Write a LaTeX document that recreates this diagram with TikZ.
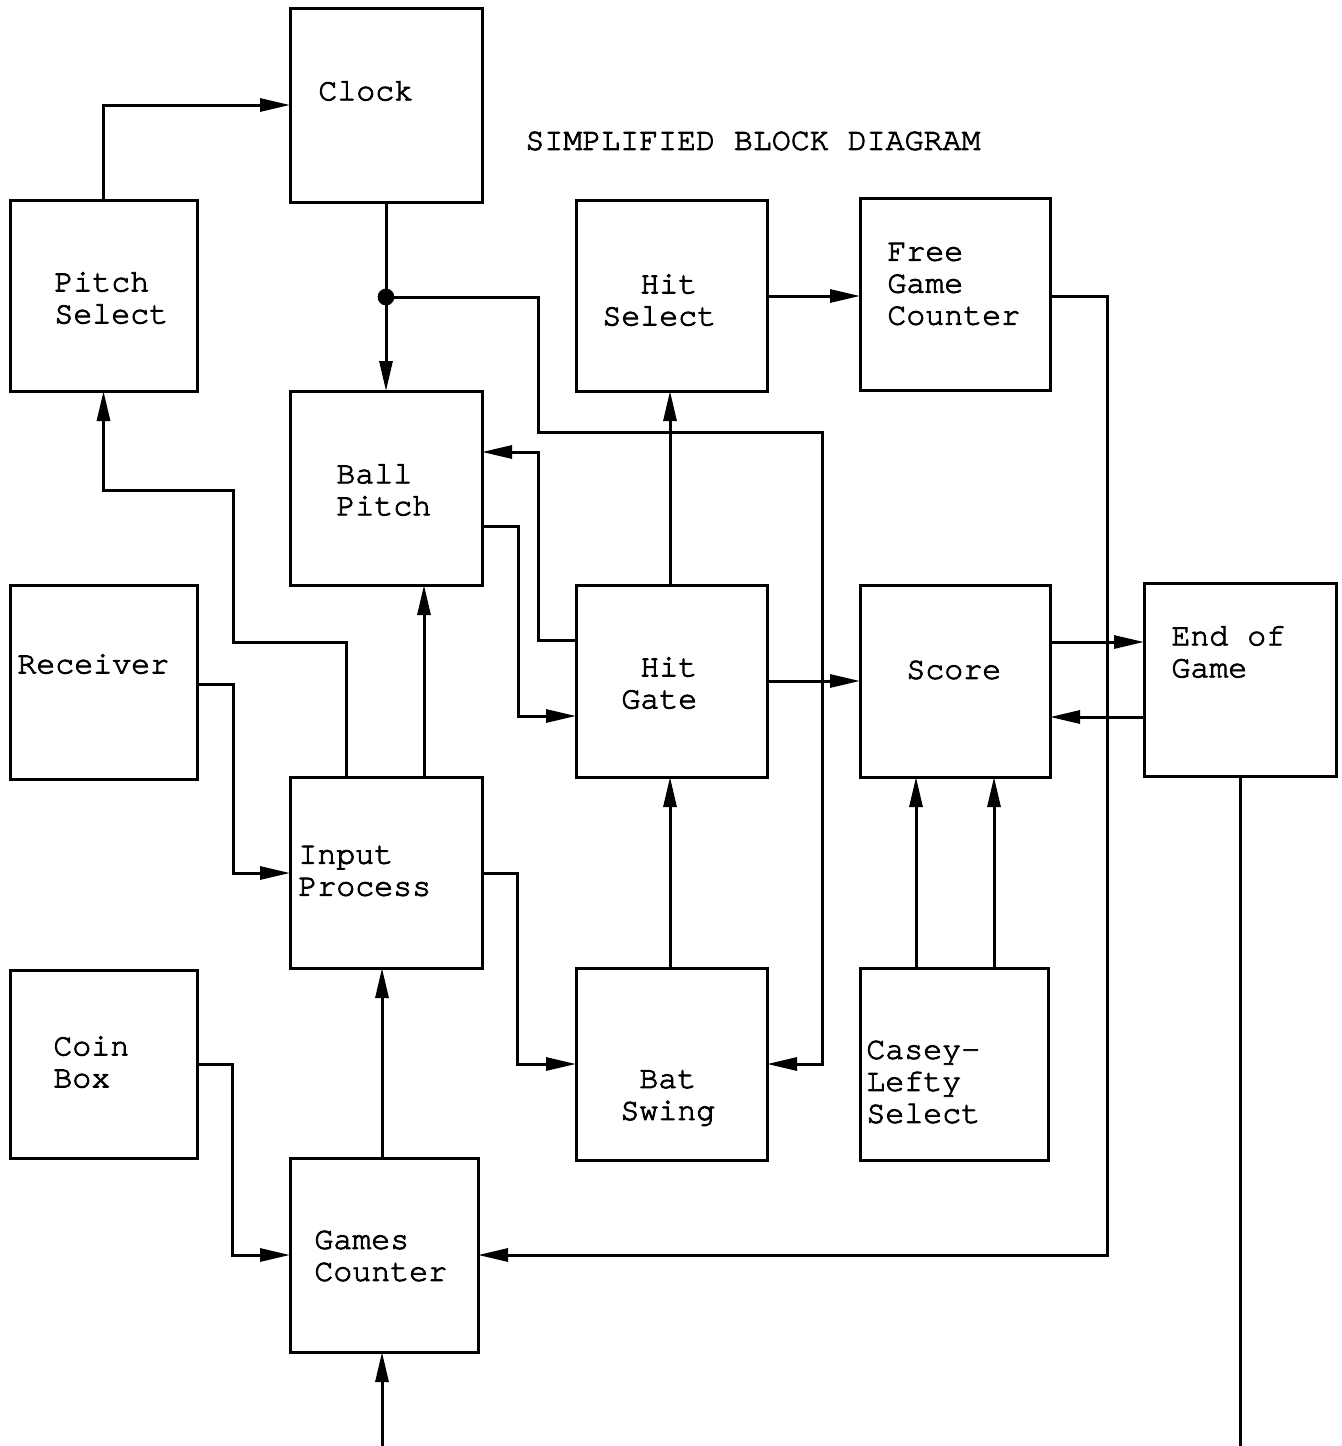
\documentclass[tikz,border=0pt]{standalone}
\usepackage{fontspec}
\setmainfont{texgyrecursor-regular.otf}[FakeBold=2.6]
\usetikzlibrary{arrows.meta}
\newcommand\blkbox[5]{\node[blk, minimum width={(#4-#2)*0.5pt}, minimum height={(#5-#3)*0.5pt}] (#1) at ({(#2+#4)/2},{(#3+#5)/2}) {};}
\begin{document}
\begin{tikzpicture}[x=0.5pt,y=-0.5pt,
  blk/.style={draw, line width=1.5pt, inner sep=0pt, outer sep=0pt},
  wire/.style={line width=1.5pt},
  arr/.style={wire, -{Triangle[length=15pt,width=6.5pt]}},
  lbl/.style={inner sep=0pt, font=\fontsize{15.8}{16}\selectfont, align=left, anchor=west}]
\useasboundingbox (0,0) rectangle (1342,1446);
\fill[white] (0,0) rectangle (1342,1446);
% boxes
\blkbox{clk}{290}{8}{482}{202}
\blkbox{ps}{10}{200}{197}{391}
\blkbox{hs}{576}{200}{767}{391}
\blkbox{fgc}{860}{198}{1050}{390}
\blkbox{bp}{290}{391}{482}{585}
\blkbox{rc}{10}{585}{197}{779}
\blkbox{hg}{576}{585}{767}{777}
\blkbox{sc}{860}{585}{1050}{777}
\blkbox{eog}{1144}{583}{1336}{776}
\blkbox{ip}{290}{777}{482}{968}
\blkbox{cb}{10}{970}{197}{1158}
\blkbox{bs}{576}{968}{767}{1160}
\blkbox{cl}{860}{968}{1048}{1160}
\blkbox{gc}{290}{1158}{478}{1352}
% labels
\node[lbl] (title) at (525,141) {SIMPLIFIED BLOCK DIAGRAM};
\node[lbl] (clkT) at (318,91) {Clock};
\node[lbl] (psT) at (54,298) {Pitch\\Select};
\node[lbl] (hsT) at (602,300) {\hphantom{Se}Hit\\Select};
\node[lbl] (fgcT) at (887,284) {Free\\Game\\Counter};
\node[lbl] (bpT) at (336,490) {Ball\\Pitch};
\node[lbl] (rcT) at (17,664) {Receiver};
\node[lbl] (hgT) at (621,683) {\hphantom{G}Hit\\Gate};
\node[lbl] (scT) at (906,670) {Score};
\node[lbl] (eogT) at (1171,652) {End of\\Game};
\node[lbl] (ipT) at (298,871) {Input\\Process};
\node[lbl] (cbT) at (53,1062) {Coin\\Box};
\node[lbl] (bsT) at (620,1098) {\hphantom{S}Bat\\Swing};
\node[lbl] (clT) at (866,1082) {Casey-\\Lefty\\Select};
\node[lbl] (gcT) at (314,1256) {Games\\Counter};
% connectors
\coordinate (dot) at (386,297);
\draw[arr] (ps.north) |- (clk.west);
\draw[arr] (clk.south) -- (bp.north);
\fill (dot) circle[radius=4.2pt];
\draw[arr] (dot) -- (538,297) -- (538,432) -- (822,432) |- (bs.east);
\draw[arr] (hg.north -| 670,0) -- (hs.south -| 670,0);
\draw[arr] (hs.east |- 0,296) -- (fgc.west |- 0,296);
\draw[arr] (fgc.east |- 0,296) -- (1107,296) |- (gc.east);
\draw[arr] (hg.west |- 0,640) -- (538,640) |- (bp.east |- 0,452);
\draw[arr] (bp.east |- 0,526) -- (518,526) |- (hg.west |- 0,716);
\draw[arr] (hg.east) -- (sc.west);
\draw[arr] (sc.east |- 0,642) -- (eog.west |- 0,642);
\draw[arr] (eog.west |- 0,717) -- (sc.east |- 0,717);
\coordinate (eogEnd) at (1240,1446);
\draw[wire] (eog.south) -- (eogEnd);
\coordinate (gcIn) at (382,1446);
\draw[arr] (gcIn) -- (gc.south -| gcIn);
\draw[arr] (gc.north -| gcIn) -- (ip.south -| gcIn);
\draw[arr] (cb.east) -- (232,1064) |- (gc.west);
\draw[arr] (rc.east |- 0,684) -- (233,684) |- (ip.west |- 0,873);
\draw[arr] (ip.north -| 424,0) -- (bp.south -| 424,0);
\draw[arr] (ip.north -| 346,0) -- (346,642) -- (233,642) -- (233,490) -| (ps.south);
\draw[arr] (ip.east |- 0,873) -- (517,873) |- (bs.west);
\draw[arr] (bs.north -| 670,0) -- (hg.south -| 670,0);
\draw[arr] (cl.north -| 916,0) -- (sc.south -| 916,0);
\draw[arr] (cl.north -| 994,0) -- (sc.south -| 994,0);
\end{tikzpicture}
\end{document}
